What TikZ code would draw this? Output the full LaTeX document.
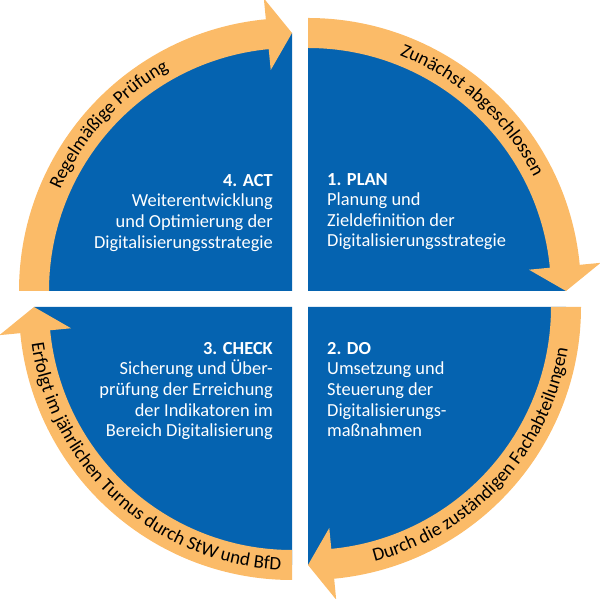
\documentclass[tikz,border=0pt]{standalone}
\usepackage{fontspec}
\setmainfont{Carlito}
\usetikzlibrary{calc,decorations.text}
\definecolor{pdcablau}{RGB}{5,99,176}
\definecolor{pdcaorange}{RGB}{251,187,104}
\newcommand\bogenfont{\fontsize{19}{22}\selectfont}

\begin{document}
\begin{tikzpicture}[x=1pt,y=1pt,
  viertel/.style={fill=pdcablau},
  pfeil/.style={fill=pdcaorange},
  phase/.style={text=white, inner sep=0pt, font=\fontsize{18.4}{20.6}\selectfont},
  bogentext/.style={decorate, decoration={text along path, text align=center, text={#1}}}]
\useasboundingbox (0,0) rectangle (600,599);
% Mittelpunkte der vier Viertel
\coordinate (mplan) at (308,308);
\coordinate (mdo) at (308,292);
\coordinate (mcheck) at (292,292);
\coordinate (mact) at (292,308);
% Viertelkreise und Pfeile (im Uhrzeigersinn)
\foreach \m/\a in {mplan/90, mdo/0, mcheck/-90, mact/180}{
  \fill[viertel] (\m) -- ($(\m)+(\a:258pt)$) arc[start angle=\a, end angle=\a-90, radius=258pt] -- cycle;
  \fill[pfeil] ($(\m)+(\a:273pt)$) arc[start angle=\a, end angle=\a-84.5, radius=273pt]
    -- ($(\m)+(\a-84.5:294pt)$) -- ($(\m)+(\a-90:258pt)$) -- ($(\m)+(\a-84.5:222pt)$)
    -- ($(\m)+(\a-84.5:243pt)$) arc[start angle=\a-84.5, end angle=\a, radius=243pt] -- cycle;
}
% Texte in den Vierteln
\node[phase, anchor=north west, align=left] (plan) at (327,426) {\textbf{1. PLAN}\\Planung und\\Zieldefinition der\\Digitalisierungsstrategie};
\node[phase, anchor=north west, align=left] (do) at (327,257) {\textbf{2. DO}\\Umsetzung und\\Steuerung der\\Digitalisierungs-\\maßnahmen};
\node[phase, anchor=north east, align=right] (check) at (273,257) {\textbf{3. CHECK}\\Sicherung und Über-\\prüfung der Erreichung\\der Indikatoren im\\Bereich Digitalisierung};
\node[phase, anchor=north east, align=right] (act) at (273,425) {\textbf{4. ACT}\\Weiterentwicklung\\und Optimierung der\\Digitalisierungsstrategie};
% Beschriftung der Pfeile
\path[bogentext={|\bogenfont|Zunächst abgeschlossen}] ($(mplan)+(90:253pt)$) arc[start angle=90, end angle=5.5, radius=253pt];
\path[bogentext={|\bogenfont|Durch die zuständigen Fachabteilungen}] ($(mdo)+(-84.5:263pt)$) arc[start angle=-84.5, end angle=0, radius=263pt];
\path[bogentext={|\bogenfont|Erfolgt im jährlichen Turnus durch StW und BfD}] ($(mcheck)+(185.5:263pt)$) arc[start angle=185.5, end angle=270, radius=263pt];
\path[bogentext={|\bogenfont|Regelmäßige Prüfung}] ($(mact)+(180:253pt)$) arc[start angle=180, end angle=95.5, radius=253pt];
\end{tikzpicture}
\end{document}
